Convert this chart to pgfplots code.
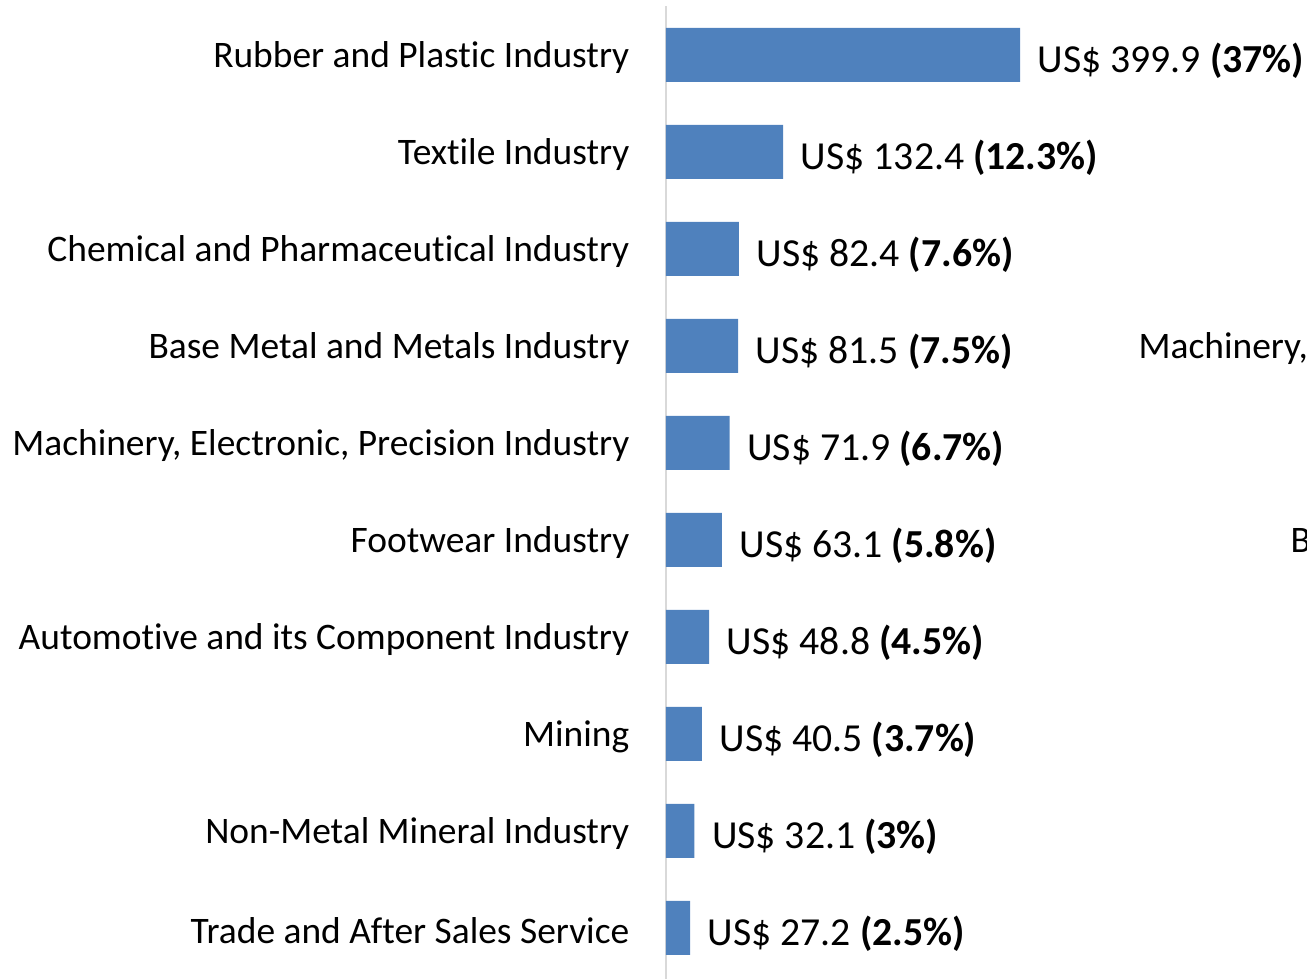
\documentclass[border=0pt]{standalone}
\usepackage{pgfplots}
\pgfplotsset{compat=1.18}
\usepackage{fontspec}
\setmainfont{Carlito}[Ligatures=NoCommon]
\definecolor{barblue}{HTML}{4F81BD}
\definecolor{axgray}{HTML}{D9D9D9}
\newcommand{\lblfont}{\fontsize{10.65}{13}\selectfont}
\newcommand{\valfont}{\fontsize{11.3}{13}\selectfont}

\begin{document}
\begin{tikzpicture}
\begin{axis}[
    name=ax,
    scale only axis,
    width=6.41cm, height=9.7cm,
    xmin=0, xmax=724,
    ymin=-0.5, ymax=9.5,
    y dir=reverse,
    xbar, bar width=0.54cm,
    axis x line=none,
    axis y line*=left,
    y axis line style={axgray, line width=0.6pt, -},
    ytick={0,...,9},
    yticklabels={Rubber and Plastic Industry, Textile Industry, Chemical and Pharmaceutical Industry, Base Metal and Metals Industry, {Machinery, Electronic, Precision Industry}, Footwear Industry, Automotive and its Component Industry, Mining, Non-Metal Mineral Industry, Trade and After Sales Service},
    major tick length=0pt,
    yticklabel style={font=\lblfont, anchor=east, inner sep=0pt, xshift=-0.36cm, yshift=-0.03cm},
    point meta=explicit symbolic,
    nodes near coords,
    nodes near coords style={font=\valfont, anchor=west, inner sep=0pt, xshift=0.17cm, yshift=-0.06cm},
    clip=false,
]
\addplot[fill=barblue, draw=none] coordinates {
    (399.9,0) [US\$ 399.9 \textbf{(37\%)}]
    (132.4,1) [US\$ 132.4 \textbf{(12.3\%)}]
    (82.4,2) [US\$ 82.4 \textbf{(7.6\%)}]
    (81.5,3) [US\$ 81.5 \textbf{(7.5\%)}]
    (71.9,4) [US\$ 71.9 \textbf{(6.7\%)}]
    (63.1,5) [US\$ 63.1 \textbf{(5.8\%)}]
    (48.8,6) [US\$ 48.8 \textbf{(4.5\%)}]
    (40.5,7) [US\$ 40.5 \textbf{(3.7\%)}]
    (32.1,8) [US\$ 32.1 \textbf{(3\%)}]
    (27.2,9) [US\$ 27.2 \textbf{(2.5\%)}]
};
\end{axis}
\draw[axgray, line width=0.6pt] (ax.south west) -- ++(0,-0.03cm);
\node[font=\lblfont, anchor=west, inner sep=0pt] at ([shift={(4.72cm,-3.425cm)}]ax.north west) {Machinery, Electronic, Precision Industry};
\node[font=\lblfont, anchor=west, inner sep=0pt] at ([shift={(6.24cm,-5.365cm)}]ax.north west) {Base Metal and Metals Industry};
\pgfresetboundingbox
\path[use as bounding box] ([shift={(-6.66cm,0.065cm)}]ax.north west) rectangle ([shift={(6.41cm,-9.725cm)}]ax.north west);
\end{tikzpicture}
\end{document}
